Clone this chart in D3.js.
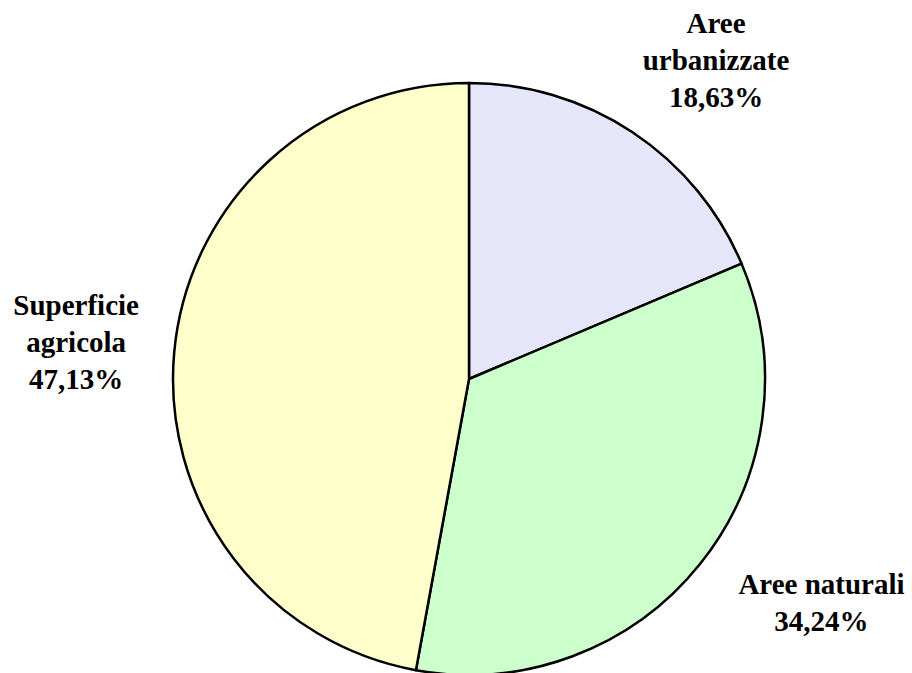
<!DOCTYPE html>
<html>
<head>
<meta charset="utf-8">
<script src="https://cdn.jsdelivr.net/npm/d3@7"></script>
<style>
  body { margin: 0; background: #fff; }
  svg { display: block; }
  .lbl { font-family: "Times New Roman", "Liberation Serif", "DejaVu Serif", serif; font-weight: bold; font-size: 29px; }
</style>
</head>
<body>
<div id="chart"></div>
<script>
// land use shares (%), clockwise from 12 o'clock
var categories = ["Aree urbanizzate", "Aree naturali", "Superficie agricola"];
var values = [18.63, 34.24, 47.13];
var labelLines = [["Aree", "urbanizzate"], ["Aree naturali"], ["Superficie", "agricola"]];
var colors = ["#e6e6fa", "#ccffcc", "#ffffcc"];

var width = 912, height = 673;
var cx = 469, cy = 379, radius = 296;

var data = categories.map(function(c, i) {
  return { name: c, value: values[i], lines: labelLines[i] };
});

var svg = d3.select("#chart")
  .append("svg")
    .attr("width", width)
    .attr("height", height);

svg.append("rect")
  .attr("width", width)
  .attr("height", height)
  .attr("fill", "#fff");

var g = svg.append("g")
  .attr("transform", "translate(" + cx + "," + cy + ")");

var pie = d3.pie()
  .sort(null)
  .value(function(d) { return d.value; });

var arc = d3.arc().innerRadius(0).outerRadius(radius);
var labelArc = d3.arc().innerRadius(radius * 1.37).outerRadius(radius * 1.37);

var arcs = pie(data);

g.selectAll("path.slice")
  .data(arcs)
  .enter().append("path")
    .attr("class", "slice")
    .attr("d", arc)
    .attr("fill", function(d, i) { return colors[i]; })
    .attr("stroke", "#000")
    .attr("stroke-width", 2.5)
    .attr("stroke-linejoin", "round");

// excel-ish label placement: nudge off the centroid
var nudge = [[23, 19], [36, -30], [11, 0]];
var lineH = 37;

var fmt = function(v) { return v.toFixed(2).replace(".", ",") + "%"; };

var labels = g.selectAll("text.lbl")
  .data(arcs)
  .enter().append("text")
    .attr("class", "lbl")
    .attr("text-anchor", "middle")
    .attr("fill", "#000")
    .attr("transform", function(d, i) {
      var c = labelArc.centroid(d);
      return "translate(" + (c[0] + nudge[i][0]) + "," + (c[1] + nudge[i][1]) + ")";
    });

labels.each(function(d) {
  var lines = d.data.lines.concat([fmt(d.data.value)]);
  var t = d3.select(this);
  var top = -(lines.length - 1) * lineH / 2 + 10;
  lines.forEach(function(l, k) {
    t.append("tspan")
      .attr("x", 0)
      .attr("y", top + k * lineH)
      .text(l);
  });
});
</script>
</body>
</html>
